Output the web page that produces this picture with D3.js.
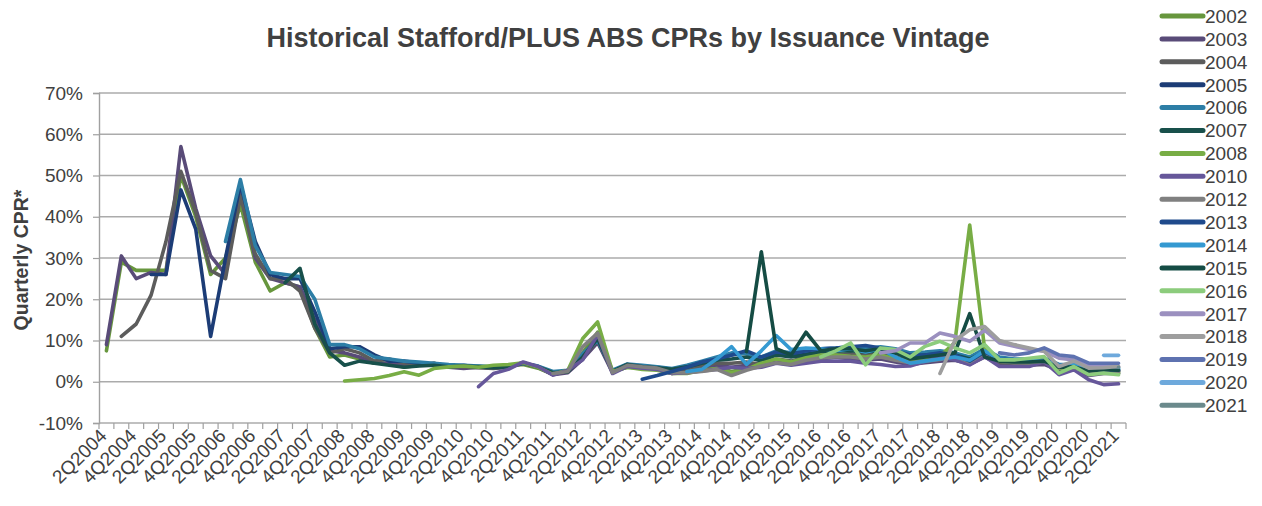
<!DOCTYPE html>
<html><head><meta charset="utf-8">
<script src="https://cdn.jsdelivr.net/npm/d3@7"></script>
<style>html,body{margin:0;padding:0;background:#fff;}svg{display:block;font-family:"Liberation Sans",Arial,sans-serif;}</style>
</head><body><svg id="c" width="1262" height="506"></svg>
<script>
const quarters = ["2Q2004","3Q2004","4Q2004","1Q2005","2Q2005","3Q2005","4Q2005","1Q2006","2Q2006","3Q2006","4Q2006","1Q2007","2Q2007","3Q2007","4Q2007","1Q2008","2Q2008","3Q2008","4Q2008","1Q2009","2Q2009","3Q2009","4Q2009","1Q2010","2Q2010","3Q2010","4Q2010","1Q2011","2Q2011","3Q2011","4Q2011","1Q2012","2Q2012","3Q2012","4Q2012","1Q2013","2Q2013","3Q2013","4Q2013","1Q2014","2Q2014","3Q2014","4Q2014","1Q2015","2Q2015","3Q2015","4Q2015","1Q2016","2Q2016","3Q2016","4Q2016","1Q2017","2Q2017","3Q2017","4Q2017","1Q2018","2Q2018","3Q2018","4Q2018","1Q2019","2Q2019","3Q2019","4Q2019","1Q2020","2Q2020","3Q2020","4Q2020","1Q2021","2Q2021"];
const tickLabels = ["2Q2004","4Q2004","2Q2005","4Q2005","2Q2006","4Q2006","2Q2007","4Q2007","2Q2008","4Q2008","2Q2009","4Q2009","2Q2010","4Q2010","2Q2011","4Q2011","2Q2012","4Q2012","2Q2013","4Q2013","2Q2014","4Q2014","2Q2015","4Q2015","2Q2016","4Q2016","2Q2017","4Q2017","2Q2018","4Q2018","2Q2019","4Q2019","2Q2020","4Q2020","2Q2021"];
const yTicks = [-10,0,10,20,30,40,50,60,70];
const vintages = ["2002","2003","2004","2005","2006","2007","2008","2010","2012","2013","2014","2015","2016","2017","2018","2019","2020","2021"];
const colors = ["#67963d","#594b78","#5c5c5c","#1c3c76","#2d7ea6","#18504b","#78ad45","#66579a","#808080","#1f4a8c","#3499d1","#154c44","#8ccc7c","#9b90bf","#9e9e9e","#5e72b0","#6ea9dc","#6b8a8c"];
// first quarter (label) of each vintage's series
const seriesStart = ["2Q2004","2Q2004","3Q2004","1Q2005","2Q2006","2Q2007","2Q2008","3Q2010","4Q2011","2Q2013","1Q2014","1Q2015","2Q2016","2Q2017","2Q2018","2Q2019","1Q2021","2Q2021"];
// quarterly CPR values (%)
const v2002 = [7.5,29,27,27,27,50,40,26,30,43, 29,22,24,23,13,6,6.5,5.5,4.5,4.5, 3.5,4,4.5,3.5,3.5,3.8,3.5,3.8,4.2,3.3, 1.8,2.5,7,12,2.5,3.5,3.2,3,2.3,2.5, 3,3.5,2.5,3.2,4.5,5,4.5,5.5,6,6.5, 6,5.8,6.2,5,4.5,5.2,5.5,6,5,6.5, 4.5,4.2,4.3,4.5,3,3.2,1.8,2.2,2];
const v2003 = [9,30.5,25,26.5,26,57,42,30.5,26,46, 30,25,24,23,15,7.5,7,6,4.5,4.5, 4,4,4.5,3.5,3.2,3.5,3.3,3.6,4.6,3.5, 1.7,2.2,5.5,9.5,2.2,3.8,3.3,3,2,2.8, 3.5,4,3.5,4,4,5,4.2,5,5.5,6, 5.5,5.2,5.5,4.8,4.2,4.6,5,5.2,4.3,6, 4.2,4,4,4.2,2.8,3,1.5,2,2];
const v2004 = [11,14,21,34,51,41,27,25,45, 31,25,25,22,13,7,8,7,5,5.5, 4.5,4.2,4,3.8,3.6,3.4,3.2,3.5,4.4,3.6, 2,2.4,6,10,2.4,4,3.6,3.2,2.5,3, 3.8,4.5,4.5,4.8,4.2,5.5,5,6,6.2,6.5, 6.8,6.5,6.8,6,5,5.5,6,6,4.8,6.8, 4.6,4.4,4.4,4.8,3.3,3.4,2.2,2.5,2.4];
const v2005 = [26,26,46.5,37,11,30,48, 34,26,25,25,17,8,8.5,8.5,6.5,5, 5,4.5,4,3.8,4,3.5,3.5,3.8,4.5,3.7, 2.2,2.6,6.5,10.5,2.6,4.2,3.8,3.5,3,3.8, 4.8,5.5,6.5,7,5.5,7,6.5,7,7.5,7.5, 8,7.5,8,7.5,6.5,6.8,7,6.5,5.5,7.5, 5.5,5,5,5.2,3.8,3.8,2.5,2.8,2.6];
const v2006 = [34,49, 33,26.5,26,25.5,20,9,9,8,6,5.5, 5,4.8,4.5,4.2,4,3.8,3.6,3.8,4.5,3.8, 2.5,2.8,6.8,10,2.8,4.3,4,3.6,3.2,4, 5,6,7,6.8,6,7.5,7,7.5,8,8.2, 8.5,8,8.5,8,7,7.2,7.5,7,6,8, 6,5.5,5.5,5.8,4.2,4.2,3,3.2,3];
const v2007 = [24,27.5,14,7,4,5,4.5,4, 3.5,3.8,4,3.6,3.8,3.6,3.4,3.6,4.6,3.6, 2.2,2.4,6,10.5,2.5,4.2,3.7,3.4,3,3.6, 4.5,5.2,5.5,6,5,6.5,6,6.5,7.2,7.4, 7.5,7.2,7.5,7,6.2,6.5,6.8,6.5,5.5,7.2, 5.2,4.8,4.8,5,3.6,3.6,2.4,2.8,2.6];
const v2008 = [0.2,0.5,0.8,1.5,2.4,1.6,3.2,3.6, 3.8,3.5,4,4.2,4.6,3.5,1.8,2.8,10.5,14.5, 2.5,3.5,3,2.8,2,2,2.8,3.2,2.2,3, 4.5,5.5,4.8,5.8,6.5,6.5,6.2,6,6.5,5.5, 5,5.8,6.2,9.5,38,8,5,4.8,4.6,4.8, 3.2,3.4,2,2.4,2.2];
const v2010 = [-1.2,2,3,4.8,3.7,1.6,2.8,5.3,11.4, 2,3.7,3.3,3,2,2.2,2.6,3,3.5,3.2, 3.5,4.5,4,4.5,5,5,5,4.5,4.2,3.7, 3.8,4.9,6.1,5.3,4.1,6.1,3.7,3.7,3.7,4.9, 1.7,2.9,0.5,-0.7,-0.5];
const v2012 = [2,2.5,8.5,11.8,2.2,4,3.6,3.3,2.2,2.2, 2.5,3,1.5,2.8,3.8,4.6,4.2,5.2,5.8,6, 6,5.5,6,5.2,4.6,5,5.4,6.2,4.8,7, 5,4.6,4.6,5,3.4,3.5,2.2,2.6,2.5];
const v2013 = [0.6,1.5,2.5,3.5,4.8,5.5,6.5,7.5,6,7.2, 6.8,7.5,8,8.2,8.5,8.8,8.2,7.5,6.5,6.5, 7,6.5,5,7.2,5.5,5.2,5.2,5.5,4,4, 2.8,3,2.8];
const v2014 = [2.5,3,5.5,8.5,4.2,7.5,11.2,7.8,8.2,8, 7.5,8,7.2,8,6,4.5,5,5.5,6,5.2, 7.5,5.5,5,5,5.2,4,4.2,3,3.4,3.2];
const v2015 = [7.3,31.5,8,6.5,12,7.5,8,8,7.5,8, 7,5.5,6,6.5,7,16.5,6,5,4.8,4.8, 5,3.5,3.6,2.6,3,2.8];
const v2016 = [6,7.5,9.4,4.1,8.2,7.8,6,8.6,9.8,8.2, 7,9,5.3,5.3,5.7,6.1,2.1,3.7,1.7,2.1,1.7];
const v2017 = [7,7.5,9.4,9.4,11.8,11,9.8,12.5,9.4,8.6, 7.8,7.4,5.7,5.3,3.7,3.8,3.7];
const v2018 = [2,10,12.6,13.4,10,9,8.2,7.4,3.7,5,3.3,3.4,3.7];
const v2019 = [7,6.5,7,8.2,6.5,6.1,4.5,4.5,4.5];
const v2020 = [6.4,6.4];
const v2021 = [3.5];
const seriesValues = [v2002,v2003,v2004,v2005,v2006,v2007,v2008,v2010,v2012,v2013,v2014,v2015,v2016,v2017,v2018,v2019,v2020,v2021];

const svg = d3.select("#c");
const L = 99, R = 1126, T = 93, B = 423;
const x = d3.scalePoint().domain(quarters).range([L, R]).padding(0.5);
const xb = d3.scaleBand().domain(quarters).range([L, R]).paddingInner(0).paddingOuter(0);
const y = d3.scaleLinear().domain([-10, 70]).range([B, T]);
const txt = "#404040";

// title
svg.append("text").attr("x", 628).attr("y", 47).attr("text-anchor", "middle")
  .attr("font-size", 27).attr("font-weight", "bold").attr("fill", txt)
  .text("Historical Stafford/PLUS ABS CPRs by Issuance Vintage");

// gridlines
svg.append("g").selectAll("line").data(yTicks).join("line")
  .attr("x1", L).attr("x2", R).attr("y1", d => y(d)).attr("y2", d => y(d))
  .attr("stroke", "#ababab").attr("stroke-width", 1.6);

// y axis
const ya = svg.append("g").attr("transform", `translate(${L},0)`)
  .call(d3.axisLeft(y).tickValues(yTicks).tickSize(6).tickPadding(10).tickFormat(d => d + "%"));
ya.select(".domain").attr("stroke", "#a0a0a0").attr("stroke-width", 1.4);
ya.selectAll(".tick line").attr("stroke", "#a0a0a0").attr("stroke-width", 1.2);
ya.selectAll("text").attr("font-size", 19).attr("fill", txt).attr("font-family", "Liberation Sans, Arial, sans-serif");

// x axis (boundary ticks)
const bounds = quarters.map(q => xb(q)).concat([xb(quarters[quarters.length - 1]) + xb.bandwidth()]);
svg.append("g").selectAll("line").data(bounds).join("line")
  .attr("x1", d => d).attr("x2", d => d).attr("y1", B).attr("y2", B + 6)
  .attr("stroke", "#a0a0a0").attr("stroke-width", 1.2);
const xa = svg.append("g").attr("transform", `translate(0,${B})`)
  .call(d3.axisBottom(x).tickValues(tickLabels).tickSize(0).tickPadding(0));
xa.select(".domain").remove();
xa.selectAll("text").attr("font-size", 19).attr("fill", txt)
  .attr("font-family", "Liberation Sans, Arial, sans-serif")
  .attr("text-anchor", "end").attr("dy", null).attr("y", 0)
  .attr("transform", "translate(1,14) rotate(-45)");

// y title
svg.append("text").attr("transform", "translate(28,260) rotate(-90)").attr("text-anchor", "middle")
  .attr("font-size", 19.5).attr("font-weight", "bold").attr("fill", txt).text("Quarterly CPR*");

// series lines
const line = d3.line().defined(d => d.v != null).x(d => x(d.q)).y(d => y(d.v));
const series = vintages.map((name, k) => {
  const s0 = quarters.indexOf(seriesStart[k]);
  return { name, color: colors[k], pts: seriesValues[k].map((v, j) => ({ q: quarters[s0 + j], v })) };
});
svg.append("g").selectAll("path").data(series).join("path")
  .attr("d", d => line(d.pts)).attr("fill", "none").attr("stroke", d => d.color)
  .attr("stroke-width", 3.6).attr("stroke-linejoin", "round").attr("stroke-linecap", "round");

// legend
const lg = svg.append("g").selectAll("g").data(series).join("g")
  .attr("transform", (d, k) => `translate(1162,${16 + k * 22.9})`);
lg.append("line").attr("x1", 0).attr("x2", 41).attr("stroke", d => d.color)
  .attr("stroke-width", 5).attr("stroke-linecap", "round");
lg.append("text").attr("x", 43).attr("dy", "0.36em").attr("font-size", 19).attr("fill", txt).text(d => d.name);
</script></body></html>
